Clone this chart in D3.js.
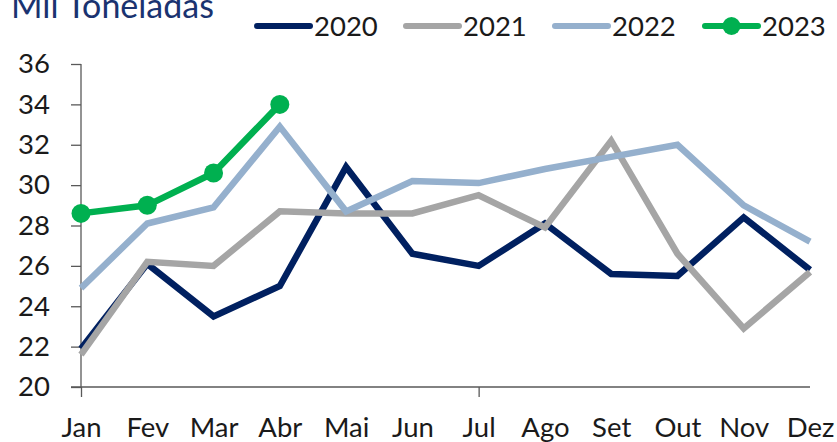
<!DOCTYPE html>
<html><head><meta charset="utf-8">
<script src="https://cdn.jsdelivr.net/npm/d3@7"></script>
<style>body{margin:0;background:#fff}svg{display:block}text{font-family:Lato,"Open Sans",sans-serif}</style>
</head><body><svg id="c" width="837" height="442"></svg>
<script>
const months = ["Jan","Fev","Mar","Abr","Mai","Jun","Jul","Ago","Set","Out","Nov","Dez"];
const yTicks = [20,22,24,26,28,30,32,34,36];
const s2020 = [21.9,26.1,23.5,25.0,30.9,26.6,26.0,28.1,25.6,25.5,28.4,25.8];
const s2021 = [21.6,26.2,26.0,28.7,28.6,28.6,29.5,27.9,32.2,26.6,22.9,25.7];
const s2022 = [24.9,28.1,28.9,32.9,28.7,30.2,30.1,30.8,31.4,32.0,29.0,27.2];
const s2023 = [28.6,29.0,30.6,34.0];
const seriesNames = ["2020","2021","2022","2023"];
const seriesColors = ["#002060","#A5A5A5","#95B0CD","#00B050"];
const title = "Mil Toneladas";

const series = [s2020,s2021,s2022,s2023].map((v,i)=>({name:seriesNames[i],values:v,color:seriesColors[i],marker:i===3}));

const svg = d3.select("#c");
const x = d3.scalePoint().domain(months).range([81,810]);
const y = d3.scaleLinear().domain([20,36]).range([387,64]);

// title
svg.append("text").attr("x",11).attr("y",18).attr("font-size",34).attr("fill","#1a3370").text(title);

// y axis
const ya = svg.append("g").attr("transform","translate(81,0)")
  .call(d3.axisLeft(y).tickValues(yTicks).tickSize(10).tickPadding(30).tickFormat(d3.format("d")));
ya.select(".domain").attr("stroke","#595959").attr("stroke-width",1.3).attr("d","M0,64V387");
ya.selectAll(".tick line").attr("stroke","#595959").attr("stroke-width",1.3);
ya.selectAll(".tick text").attr("font-size",27.5).attr("fill","#1a1a1a").attr("font-family","Lato,sans-serif").attr("text-anchor","end").attr("x",-31);

// x axis
const xa = svg.append("g").attr("transform","translate(0,387)")
  .call(d3.axisBottom(x).tickSize(0).tickPadding(40));
xa.select(".domain").attr("stroke","#595959").attr("stroke-width",1.3).attr("d","M71,0H810");
xa.selectAll(".tick text").attr("font-size",27.5).attr("fill","#1a1a1a").attr("font-family","Lato,sans-serif").attr("dy","0").attr("y",50);
xa.selectAll(".tick").filter(d=>d==="Jan"||d==="Jul").append("line").attr("y2",10).attr("stroke","#595959").attr("stroke-width",1.3);

// lines
const line = d3.line().x((d,i)=>x(months[i])).y(d=>y(d));
series.forEach(s=>{
  svg.append("path").datum(s.values).attr("d",line).attr("fill","none")
    .attr("stroke",s.color).attr("stroke-width",6.5).attr("stroke-linejoin","miter");
  if(s.marker){
    svg.selectAll(null).data(s.values).enter().append("circle")
      .attr("cx",(d,i)=>x(months[i])).attr("cy",d=>y(d)).attr("r",9.5).attr("fill",s.color);
  }
});

// legend
const legX = [255,404,553,703];
series.forEach((s,i)=>{
  const g = svg.append("g").attr("transform",`translate(${legX[i]},26)`);
  g.append("line").attr("x1",2).attr("x2",55).attr("stroke",s.color).attr("stroke-width",6).attr("stroke-linecap","round");
  if(s.marker) g.append("circle").attr("cx",28.5).attr("r",9).attr("fill",s.color);
  g.append("text").attr("x",59).attr("y",9.5).attr("font-size",27.5).attr("fill","#1a1a1a").text(s.name);
});
</script></body></html>
